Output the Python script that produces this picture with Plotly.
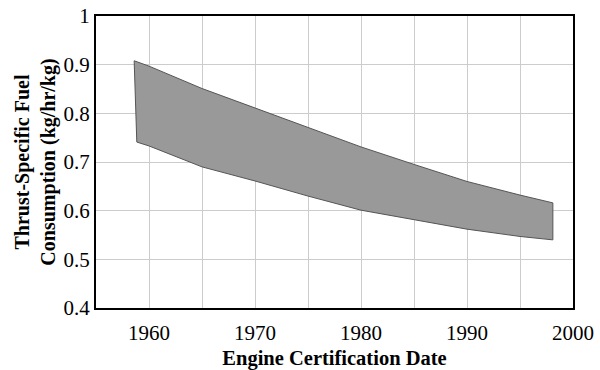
import plotly.graph_objects as go

top_years = [1958.6, 1960, 1965, 1970, 1975, 1980, 1985, 1990, 1995, 1998.1]
top_tsfc = [0.908, 0.897, 0.851, 0.811, 0.772, 0.731, 0.695, 0.660, 0.632, 0.616]
bottom_years = [1958.85, 1960, 1965, 1970, 1975, 1980, 1985, 1990, 1995, 1998.1]
bottom_tsfc = [0.741, 0.733, 0.690, 0.661, 0.630, 0.601, 0.582, 0.562, 0.547, 0.540]

x_title = "Engine Certification Date"
y_title = "Thrust-Specific Fuel<br>Consumption (kg/hr/kg)"

xs = top_years + bottom_years[::-1] + [top_years[0]]
ys = top_tsfc + bottom_tsfc[::-1] + [top_tsfc[0]]

fig = go.Figure()
fig.add_trace(go.Scatter(
    x=xs, y=ys, mode="lines", fill="toself",
    fillcolor="#999999", line=dict(color="#555555", width=1),
    hoverinfo="skip", showlegend=False,
))

font = "Liberation Serif, Times New Roman, serif"
fig.update_layout(
    width=600, height=370,
    margin=dict(l=96, r=27, t=16, b=62),
    paper_bgcolor="white", plot_bgcolor="white",
    font=dict(family=font, color="black", size=20),
    showlegend=False,
)
fig.update_xaxes(
    range=[1955, 2000], dtick=10, tick0=1960,
    showgrid=True, gridcolor="#cccccc", gridwidth=1,
    minor=dict(dtick=5, showgrid=True, gridcolor="#cccccc", gridwidth=1),
    showline=True, linecolor="black", linewidth=2, mirror=True,
    ticks="", zeroline=False, automargin=False, ticklabelstandoff=5,
    tickfont=dict(size=21, family=font),
    title=dict(text="<b>" + x_title + "</b>", font=dict(size=20.5, family=font), standoff=7),
)
fig.update_yaxes(
    range=[0.4, 1.0], dtick=0.1, tick0=0.4,
    showgrid=True, gridcolor="#cccccc", gridwidth=1,
    showline=True, linecolor="black", linewidth=2, mirror=True,
    ticks="", zeroline=False, automargin=False,
    tickfont=dict(size=21, family=font),
    title=dict(text="<b>" + y_title + "</b>", font=dict(size=20, family=font), standoff=3),
)

fig.write_html(
    "out.html",
    config={"displayModeBar": False, "staticPlot": True},
    post_script="document.body.style.margin='0';",
)
